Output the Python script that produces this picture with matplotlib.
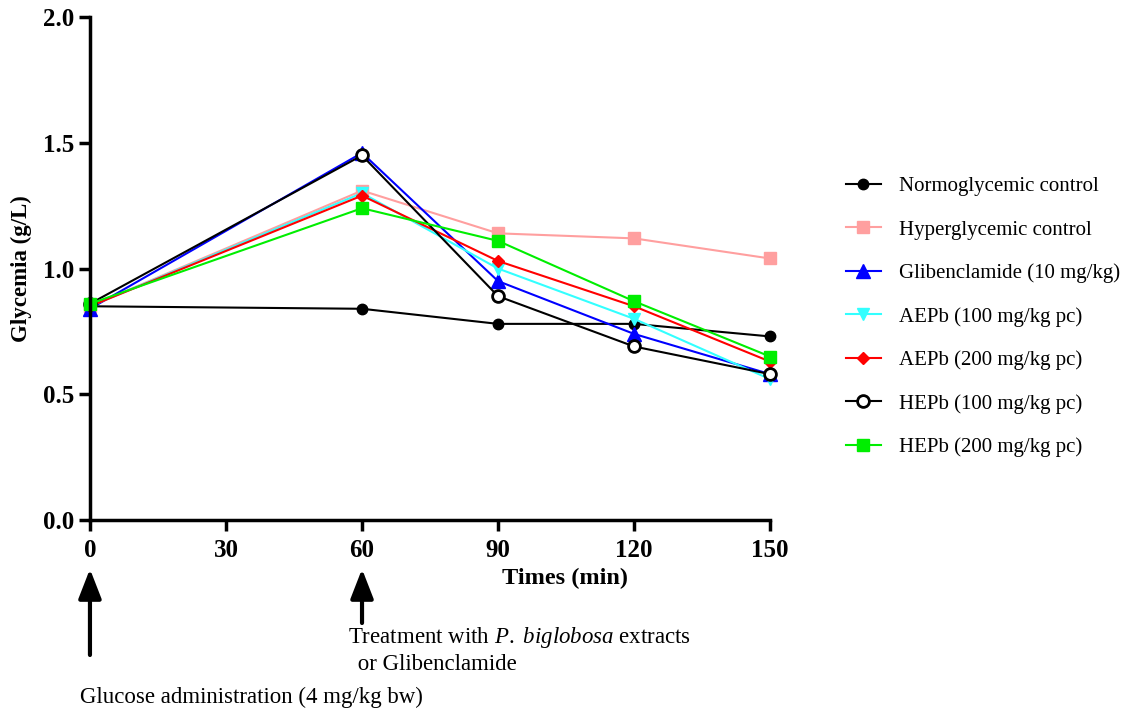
import matplotlib.pyplot as plt
from matplotlib.transforms import blended_transform_factory

plt.rcParams['font.family'] = ['Liberation Serif', 'DejaVu Serif']
plt.rcParams['mathtext.fontset'] = 'custom'
plt.rcParams['mathtext.rm'] = 'Liberation Serif'
plt.rcParams['mathtext.it'] = 'Liberation Serif:italic'

times = [0, 60, 90, 120, 150]

normo = [0.85, 0.84, 0.78, 0.78, 0.73]
hyper = [0.85, 1.31, 1.14, 1.12, 1.04]
gliben = [0.84, 1.46, 0.95, 0.74, 0.58]
aepb100 = [0.85, 1.30, 1.00, 0.80, 0.56]
aepb200 = [0.85, 1.29, 1.03, 0.85, 0.63]
hepb100 = [0.86, 1.45, 0.89, 0.69, 0.58]
hepb200 = [0.86, 1.24, 1.11, 0.87, 0.65]

labels = ["Normoglycemic control", "Hyperglycemic control", "Glibenclamide (10 mg/kg)",
          "AEPb (100 mg/kg pc)", "AEPb (200 mg/kg pc)", "HEPb (100 mg/kg pc)",
          "HEPb (200 mg/kg pc)"]

fig = plt.figure(figsize=(11.46, 7.13), dpi=100)
ax = fig.add_axes([0.0785, 0.2707, 0.5935, 0.7053])

styles = [
    (normo, dict(color="black", marker="o", ms=7.5)),
    (hyper, dict(color="#ff9f9f", marker="s", ms=8)),
    (gliben, dict(color="#0000ff", marker="^", ms=10)),
    (aepb100, dict(color="#33ffff", marker="v", ms=9)),
    (aepb200, dict(color="#ff0000", marker="D", ms=6.5)),
    (hepb100, dict(color="black", marker="o", ms=8.5, mfc="white", mew=2)),
    (hepb200, dict(color="#00ee00", marker="s", ms=9)),
]
for (vals, st), lab in zip(styles, labels):
    ax.plot(times, vals, lw=1.5, label=lab, clip_on=False, **st)

ax.set_xlim(0, 150)
ax.set_ylim(0, 2.0)
ax.set_xticks([0, 30, 60, 90, 120, 150])
ax.set_yticks([0.0, 0.5, 1.0, 1.5, 2.0])
ax.set_yticklabels(["0.0", "0.5", "1.0", "1.5", "2.0"])
for s in ["top", "right"]:
    ax.spines[s].set_visible(False)
for s in ["left", "bottom"]:
    ax.spines[s].set_linewidth(2.5)
ax.tick_params(width=2.5, length=8, labelsize=18)
for t in ax.get_xticklabels() + ax.get_yticklabels():
    t.set_fontweight("bold")
ax.tick_params(axis="x", pad=6)

ax.set_ylabel("Glycemia (g/L)", fontsize=16.5, fontweight="bold", labelpad=8)
fig.text(565 / 1146, 1 - 578 / 713, "Times (min)", fontsize=17.5, fontweight="bold",
         ha="center", va="center")

fig.legend(loc="center left", bbox_to_anchor=(829 / 1146, 1 - 317 / 713), frameon=False,
           fontsize=15, handlelength=1.7, labelspacing=1.14, handletextpad=0.85, borderpad=0.3)

# arrows and annotations below the axis
tr = blended_transform_factory(ax.transData, fig.transFigure)
arrow = dict(arrowstyle="-|>,head_width=0.7,head_length=1.8", lw=3, color="black",
             shrinkA=0, shrinkB=0)
ax.annotate("", xy=(0, 1 - 569 / 713), xytext=(0, 1 - 655 / 713), xycoords=tr, textcoords=tr,
            arrowprops=arrow, annotation_clip=False)
ax.annotate("", xy=(60, 1 - 569 / 713), xytext=(60, 1 - 623 / 713), xycoords=tr, textcoords=tr,
            arrowprops=arrow, annotation_clip=False)

fig.text(348 / 1146, 1 - 638 / 713, "Treatment with $\\it{P.}$ $\\it{biglobosa}$ extracts",
         fontsize=16.5, va="center", ha="left")
fig.text(352 / 1146, 1 - 665 / 713, " or Glibenclamide", fontsize=16.5, va="center", ha="left")
fig.text(80 / 1146, 1 - 697 / 713, "Glucose administration (4 mg/kg bw)", fontsize=16.5,
         va="center", ha="left")

fig.savefig("out.png", dpi=100)
